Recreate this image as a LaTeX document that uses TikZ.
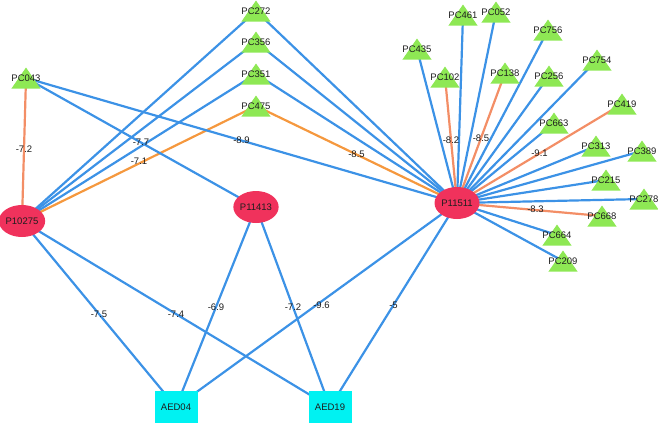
\documentclass[tikz,border=0pt]{standalone}
\usepackage{fontspec}
\setmainfont{Liberation Sans}
\usetikzlibrary{shapes.geometric,backgrounds}
\definecolor{protColor}{RGB}{240, 50, 92}
\definecolor{pcColor}{RGB}{142, 232, 84}
\definecolor{aedColor}{RGB}{0, 242, 242}
\definecolor{blueEdge}{RGB}{60, 146, 230}
\definecolor{orangeEdge}{RGB}{245, 152, 62}
\definecolor{salmonEdge}{RGB}{243, 142, 102}
\definecolor{labelColor}{RGB}{30, 30, 30}

\begin{document}
\begin{tikzpicture}[
    x=1pt, y=-1pt,
    prot/.style={ellipse, fill=protColor, minimum width=45pt, minimum height=32pt, inner sep=0pt, text=labelColor, font=\fontsize{9.5}{10}\selectfont},
    aed/.style={rectangle, fill=aedColor, minimum width=43pt, minimum height=32pt, inner sep=0pt, text=labelColor, font=\fontsize{9.5}{10}\selectfont},
    pc/.style={rectangle, minimum width=27pt, minimum height=21pt, inner sep=0pt, text=labelColor, font=\fontsize{9.5}{10}\selectfont,
        path picture={\fill[pcColor] (path picture bounding box.north) -- (path picture bounding box.south east) -- (path picture bounding box.south west) -- cycle;}},
    blue/.style={line width=2.2pt, blueEdge},
    orange/.style={line width=2.2pt, orangeEdge},
    salmon/.style={line width=2.2pt, salmonEdge},
    elabel/.style={midway, inner sep=0pt, text=labelColor, font=\fontsize{9.5}{10}\selectfont}
]
    \useasboundingbox (0,0) rectangle (658,423);

    \node[prot] (p10275) at (22,221) {P10275};
    \node[prot] (p11413) at (256,207) {P11413};
    \node[prot] (p11511) at (457,203) {P11511};
    \node[aed] (aed04) at (176,407) {AED04};
    \node[aed] (aed19) at (330,407) {AED19};

    \node[pc] (pc043) at (26,78) {PC043};
    \node[pc] (pc272) at (256,11) {PC272};
    \node[pc] (pc356) at (256,42) {PC356};
    \node[pc] (pc351) at (256,74) {PC351};
    \node[pc] (pc475) at (256,106) {PC475};

    \node[pc] (pc461) at (463,15) {PC461};
    \node[pc] (pc052) at (496,12) {PC052};
    \node[pc] (pc435) at (417,49) {PC435};
    \node[pc] (pc756) at (548,30) {PC756};
    \node[pc] (pc102) at (445,77) {PC102};
    \node[pc] (pc138) at (505,73) {PC138};
    \node[pc] (pc256) at (549,76) {PC256};
    \node[pc] (pc754) at (597,60) {PC754};
    \node[pc] (pc419) at (622,104) {PC419};
    \node[pc] (pc663) at (554,123) {PC663};
    \node[pc] (pc313) at (596,146) {PC313};
    \node[pc] (pc389) at (642,151) {PC389};
    \node[pc] (pc215) at (606,180) {PC215};
    \node[pc] (pc278) at (644,199) {PC278};
    \node[pc] (pc668) at (602,216) {PC668};
    \node[pc] (pc664) at (557,235) {PC664};
    \node[pc] (pc209) at (563,261) {PC209};

    \begin{scope}[on background layer]
        \draw[salmon] (pc043.center) -- (p10275.center) node[elabel] {-7.2};
        \draw[blue] (p10275.center) -- (pc272.center);
        \draw[blue] (p10275.center) -- (pc356.center);
        \draw[blue] (p10275.center) -- (pc351.center);
        \draw[orange] (p10275.center) -- (pc475.center) node[elabel, yshift=2pt] {-7.1};
        \draw[blue] (p10275.center) -- (aed04.center) node[elabel] {-7.5};
        \draw[blue] (p10275.center) -- (aed19.center) node[elabel] {-7.4};

        \draw[blue] (pc043.center) -- (p11413.center) node[elabel] {-7.7};
        \draw[blue] (pc043.center) -- (p11511.center) node[elabel] {-8.9};
        \draw[blue] (p11413.center) -- (aed04.center) node[elabel] {-6.9};
        \draw[blue] (p11413.center) -- (aed19.center) node[elabel] {-7.2};

        \draw[blue] (p11511.center) -- (pc272.center);
        \draw[blue] (p11511.center) -- (pc356.center);
        \draw[blue] (p11511.center) -- (pc351.center);
        \draw[orange] (p11511.center) -- (pc475.center) node[elabel] {-8.5};
        \draw[blue] (p11511.center) -- (aed04.center) node[elabel, xshift=5pt] {-9.6};
        \draw[blue] (p11511.center) -- (aed19.center) node[elabel] {-5};

        \draw[blue] (p11511.center) -- (pc435.center);
        \draw[blue] (p11511.center) -- (pc461.center);
        \draw[blue] (p11511.center) -- (pc052.center);
        \draw[salmon] (p11511.center) -- (pc102.center) node[elabel] {-8.2};
        \draw[salmon] (p11511.center) -- (pc138.center) node[elabel] {-8.5};
        \draw[blue] (p11511.center) -- (pc756.center);
        \draw[blue] (p11511.center) -- (pc256.center);
        \draw[blue] (p11511.center) -- (pc754.center);
        \draw[salmon] (p11511.center) -- (pc419.center) node[elabel] {-9.1};
        \draw[blue] (p11511.center) -- (pc663.center);
        \draw[blue] (p11511.center) -- (pc313.center);
        \draw[blue] (p11511.center) -- (pc389.center);
        \draw[blue] (p11511.center) -- (pc215.center);
        \draw[blue] (p11511.center) -- (pc278.center);
        \draw[salmon] (p11511.center) -- (pc668.center) node[elabel, xshift=6pt] {-8.3};
        \draw[blue] (p11511.center) -- (pc664.center);
        \draw[blue] (p11511.center) -- (pc209.center);
    \end{scope}
\end{tikzpicture}
\end{document}
